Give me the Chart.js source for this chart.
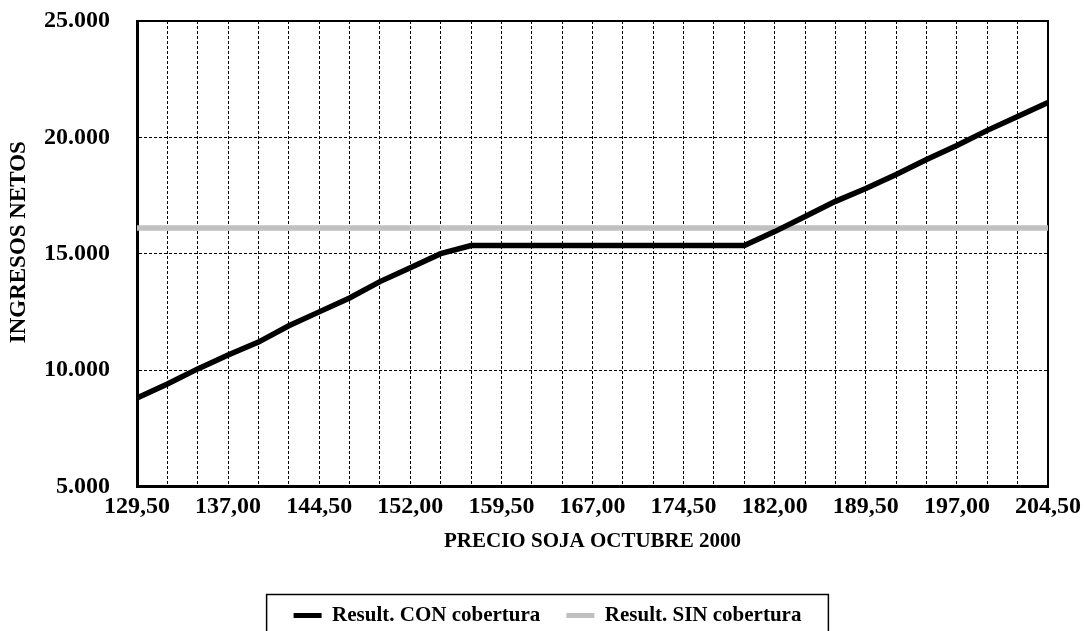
<!DOCTYPE html>
<html>
<head>
<meta charset="utf-8">
<script src="https://cdn.jsdelivr.net/npm/chart.js@4/dist/chart.umd.min.js"></script>
<style>
  html, body { margin: 0; padding: 0; background: #fff; }
  #wrap { width: 1084px; height: 631px; }
</style>
</head>
<body>
<div id="wrap"><canvas id="c" width="1084" height="631"></canvas></div>
<script>
// Precio de la soja (octubre 2000), cada 2,50
const precios = [129.5, 132, 134.5, 137, 139.5, 142, 144.5, 147, 149.5, 152, 154.5, 157, 159.5, 162, 164.5, 167,
                 169.5, 172, 174.5, 177, 179.5, 182, 184.5, 187, 189.5, 192, 194.5, 197, 199.5, 202, 204.5];

// Resultado con cobertura
const conCobertura = [8800, 9400, 10050, 10650, 11200, 11900, 12500, 13100, 13800, 14400, 15000, 15350,
                      15350, 15350, 15350, 15350, 15350, 15350, 15350, 15350, 15350, 15950, 16600, 17250,
                      17800, 18400, 19050, 19650, 20300, 20900, 21500];

// Resultado sin cobertura
const sinCobertura = [16100, 16100, 16100, 16100, 16100, 16100, 16100, 16100, 16100, 16100, 16100, 16100,
                      16100, 16100, 16100, 16100, 16100, 16100, 16100, 16100, 16100, 16100, 16100, 16100,
                      16100, 16100, 16100, 16100, 16100, 16100, 16100];

// Etiquetas del eje X (una de cada tres categorías)
const etiquetasX = precios.map(p => p.toFixed(2).replace('.', ','));
const pasoEtiquetas = 3;

const FONT = '"Liberation Serif", "Times New Roman", Times, serif';

function miles(v) {
  return String(Math.round(v)).replace(/\B(?=(\d{3})+(?!\d))/g, '.');
}

// Marco superior/derecho del área de trazado
const marcoArea = {
  id: 'marcoArea',
  beforeDatasetsDraw(chart) {
    const { ctx, chartArea: a } = chart;
    ctx.save();
    ctx.strokeStyle = '#000';
    ctx.lineWidth = 2;
    ctx.beginPath();
    ctx.moveTo(a.left, a.top);
    ctx.lineTo(a.right, a.top);
    ctx.lineTo(a.right, a.bottom);
    ctx.stroke();
    ctx.restore();
  }
};

// Recuadro alrededor de la leyenda
const marcoLeyenda = {
  id: 'marcoLeyenda',
  afterDraw(chart) {
    const lg = chart.legend;
    if (!lg || !lg.legendHitBoxes || !lg.legendHitBoxes.length) return;
    const hb = lg.legendHitBoxes;
    let minX = Infinity, maxX = -Infinity, minY = Infinity, maxY = -Infinity;
    hb.forEach(b => {
      minX = Math.min(minX, b.left);
      maxX = Math.max(maxX, b.left + b.width);
      minY = Math.min(minY, b.top);
      maxY = Math.max(maxY, b.top + b.height);
    });
    const cy = (minY + maxY) / 2;
    const { ctx } = chart;
    ctx.save();
    ctx.strokeStyle = '#000';
    ctx.lineWidth = 1.5;
    ctx.strokeRect(minX - 27, cy - 21, (maxX - minX) + 54, 50);
    ctx.restore();
  }
};

new Chart(document.getElementById('c'), {
  type: 'line',
  data: {
    labels: etiquetasX,
    datasets: [
      {
        label: 'Result. CON cobertura',
        data: conCobertura,
        borderColor: '#000000',
        backgroundColor: '#000000',
        borderWidth: 5.5,
        pointRadius: 0,
        tension: 0
      },
      {
        label: 'Result. SIN cobertura',
        data: sinCobertura,
        borderColor: '#C0C0C0',
        backgroundColor: '#C0C0C0',
        borderWidth: 5.5,
        pointRadius: 0,
        tension: 0
      }
    ]
  },
  options: {
    responsive: false,
    animation: false,
    layout: { padding: { left: 11, right: 0, top: 21, bottom: -5 } },
    plugins: {
      tooltip: { enabled: false },
      legend: {
        position: 'bottom',
        labels: {
          color: '#000',
          font: { family: FONT, size: 21, weight: 'bold' },
          boxWidth: 28,
          boxHeight: 5,
          padding: 26,
          generateLabels(chart) {
            const items = Chart.defaults.plugins.legend.labels.generateLabels(chart);
            items.forEach(it => { it.lineWidth = 0; it.strokeStyle = it.fillStyle; });
            return items;
          }
        }
      }
    },
    scales: {
      x: {
        type: 'category',
        offset: false,
        grid: { color: '#000', lineWidth: 1, drawTicks: false },
        border: { color: '#000', width: 3, dash: [3, 2] },
        ticks: {
          color: '#000',
          font: { family: FONT, size: 24, weight: 'bold' },
          autoSkip: false,
          maxRotation: 0,
          minRotation: 0,
          padding: 6,
          callback: (v, i) => (i % pasoEtiquetas === 0 ? etiquetasX[i] : '')
        },
        title: {
          display: true,
          text: 'PRECIO SOJA OCTUBRE 2000',
          color: '#000',
          font: { family: FONT, size: 21, weight: 'bold' },
          padding: { top: 8, bottom: 25 }
        },
        afterFit(scale) {
          scale.height = 92.6;
          scale.paddingLeft = 0;
          scale.paddingRight = 36;
        }
      },
      y: {
        min: 5000,
        max: 25000,
        grid: { color: '#000', lineWidth: 1, drawTicks: false },
        border: { color: '#000', width: 3, dash: [3, 2] },
        ticks: {
          stepSize: 5000,
          color: '#000',
          font: { family: FONT, size: 24, weight: 'bold' },
          padding: 27,
          callback: v => miles(v)
        },
        title: {
          display: true,
          // espacios iniciales: desplazan el título hacia arriba del centro del eje
          text: '    INGRESOS NETOS',
          color: '#000',
          font: { family: FONT, size: 23, weight: 'bold' },
          padding: { top: -5.3, bottom: 0 }
        },
        afterFit(scale) {
          scale.width = 126;
          scale.paddingTop = 0;
          scale.paddingBottom = 0;
        }
      }
    }
  },
  plugins: [marcoArea, marcoLeyenda]
});
</script>
</body>
</html>
